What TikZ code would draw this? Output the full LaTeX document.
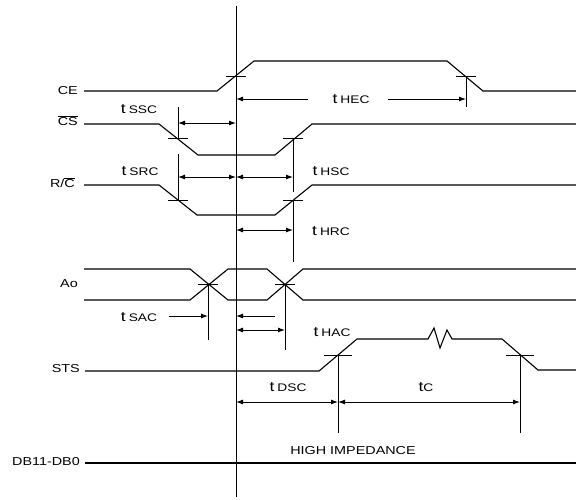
\documentclass[tikz,border=0pt]{standalone}
\usepackage{fontspec}
\setmainfont{Liberation Sans}[FakeStretch=1.25]
\usepackage{tikz}
\usetikzlibrary{arrows.meta}

\newcommand{\tname}[1]{{\fontsize{14}{14}\selectfont t}\hspace{3pt}{\fontsize{11}{11}\selectfont #1}}

\begin{document}
\begin{tikzpicture}[x=1pt, y=-1pt,
    every node/.style={font=\fontsize{11.5}{13}\selectfont, inner sep=0pt},
    sig/.style={line width=1.1pt},
    tick/.style={line width=0.9pt},
    dim/.style={line width=0.9pt, >={Latex[length=7pt,width=5pt]}}]
    \useasboundingbox (0,0) rectangle (576,499);

    % reference edge
    \draw[tick] (236,6) -- (236,497);

    % CE
    \node[anchor=east] (ce) at (78,91) {CE};
    \draw[sig] (84,91) -- (217,91) -- (254,61) -- (447,61) -- (483,91) -- (576,91);
    \draw[tick] (226,76) -- (246,76);
    \draw[tick] (456,76) -- (476,76);
    \draw[tick] (466,76) -- (466,107);
    \node (thec) at (351,99) {\tname{HEC}};
    \draw[dim, ->] (308,99) -- (236,99);
    \draw[dim, ->] (388,99) -- (466,99);

    % CS bar
    \node[anchor=east] (cs) at (78,121) {$\overline{\hbox{CS}}$};
    \draw[sig] (84,124) -- (159,124) -- (198,155) -- (275,155) -- (312,124) -- (576,124);
    \draw[tick] (168,138) -- (188,138);
    \draw[tick] (283,138) -- (303,138);
    \draw[tick] (178,107) -- (178,138);
    \draw[tick] (293,138) -- (293,192);
    \node (tssc) at (139,109) {\tname{SSC}};
    \draw[dim, <->] (178,123) -- (236,123);

    % R/C bar
    \node[anchor=east] (rc) at (75,183) {R/$\overline{\hbox{C}}$};
    \draw[sig] (84,185) -- (159,185) -- (197,215) -- (275,215) -- (312,185) -- (576,185);
    \draw[tick] (168,200) -- (188,200);
    \draw[tick] (283,200) -- (303,200);
    \draw[tick] (178,154) -- (178,200);
    \draw[tick] (293,200) -- (293,262);
    \node (tsrc) at (140,171) {\tname{SRC}};
    \node (thsc) at (331,171) {\tname{HSC}};
    \draw[dim, <->] (178,177) -- (236,177);
    \draw[dim, <->] (236,177) -- (293,177);
    \node (thrc) at (331,231) {\tname{HRC}};
    \draw[dim, <->] (236,230) -- (293,230);

    % Ao
    \node[anchor=east] (ao) at (78,284) {Ao};
    \draw[sig] (84,269) -- (190,269) -- (228,300) -- (267,300) -- (303,269) -- (576,269);
    \draw[sig] (84,300) -- (190,300) -- (228,269) -- (267,269) -- (303,300) -- (576,300);
    \draw[tick] (198,284) -- (218,284);
    \draw[tick] (275,284) -- (295,284);
    \draw[tick] (208,284) -- (208,340);
    \draw[tick] (285,284) -- (285,350);
    \node (tsac) at (139,317) {\tname{SAC}};
    \draw[dim, ->] (169,316) -- (208,316);
    \draw[dim, ->] (275,316) -- (236,316);
    \node (thac) at (332,332) {\tname{HAC}};
    \draw[dim, <->] (236,330) -- (285,330);

    % STS
    \node[anchor=east] (sts) at (80,369) {STS};
    \draw[sig] (85,371) -- (319,371) -- (357,339) -- (428,339) -- (434,328) -- (440,348)
        -- (447,330) -- (452,339) -- (502,339) -- (538,370) -- (576,370);
    \draw[tick] (324,355) -- (352,355);
    \draw[tick] (506,355) -- (534,355);
    \draw[tick] (338,355) -- (338,433);
    \draw[tick] (520,355) -- (520,433);
    \node (tdsc) at (288,387) {\tname{DSC}};
    \node (tc) at (426,387) {{\fontsize{14}{14}\selectfont t}{\fontsize{11}{11}\selectfont C}};
    \draw[dim, <->] (236,402) -- (338,402);
    \draw[dim, <->] (338,402) -- (520,402);

    % data bus
    \node[anchor=east] (db) at (80,462) {DB11-DB0};
    \draw[sig] (85,463) -- (576,463);
    \node (hiz) at (353,451) {HIGH IMPEDANCE};
\end{tikzpicture}
\end{document}
